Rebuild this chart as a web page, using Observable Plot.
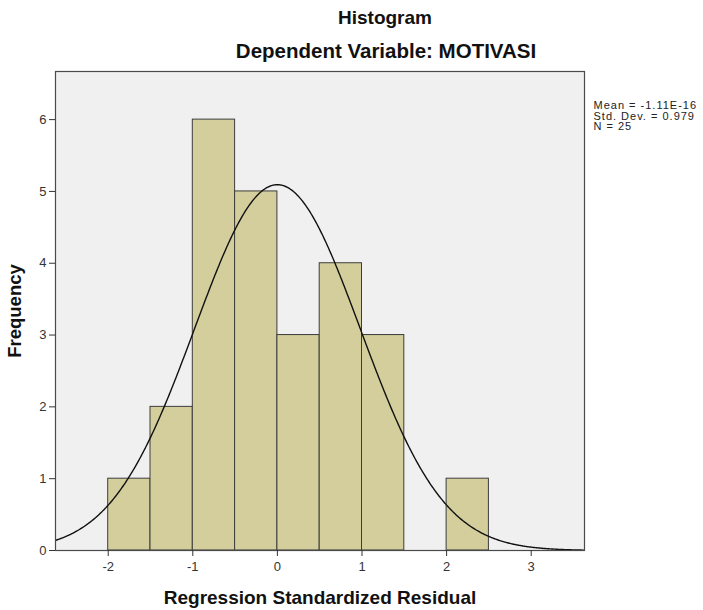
<!DOCTYPE html>
<html>
<head>
<meta charset="utf-8">
<script src="https://cdn.jsdelivr.net/npm/d3@7"></script>
<script src="https://cdn.jsdelivr.net/npm/@observablehq/plot@0.6"></script>
<style>
  html, body { margin: 0; padding: 0; background: #fff; }
  #chart svg { display: block; }
</style>
</head>
<body>
<div id="chart"></div>
<script>
// Histogram bins (lower edge, upper edge) and frequencies
const binStart = [-2, -1.5, -1, -0.5, 0, 0.5, 1, 1.5, 2];
const binEnd   = [-1.5, -1, -0.5, 0, 0.5, 1, 1.5, 2, 2.5];
const frequency = [1, 2, 6, 5, 3, 4, 3, 0, 1];

// Reported statistics
const statMean = -1.11e-16;
const statSD = 0.979;
const statN = 25;
const statLabels = ["Mean = -1.11E-16", "Std. Dev. = 0.979", "N = 25"];

const xTicks = [-2, -1, 0, 1, 2, 3];
const yTicks = [0, 1, 2, 3, 4, 5, 6];

const titleText = "Histogram";
const subtitleText = "Dependent Variable: MOTIVASI";
const xLabel = "Regression Standardized Residual";
const yLabel = "Frequency";

const bins = binStart.map((x1, i) => ({x1, x2: binEnd[i], count: frequency[i]})).filter(d => d.count > 0);

// Normal curve scaled to the histogram (N * bin width * density)
const binWidth = 0.5;
const curve = d3.range(-2.7, 3.75, 0.01).map(x => ({
  x,
  y: statN * binWidth / (statSD * Math.sqrt(2 * Math.PI)) * Math.exp(-0.5 * ((x - statMean) / statSD) ** 2)
}));

const font = "'Liberation Sans', Arial, Helvetica, sans-serif";
const fmt = d => String(d);
const statStyle = {frameAnchor: "top-right", dx: 9, textAnchor: "start", lineAnchor: "middle", fontSize: 11, fill: "#222"};

const chart = Plot.plot({
  width: 703,
  height: 610,
  marginLeft: 55,
  marginRight: 119,
  marginTop: 71,
  marginBottom: 60,
  style: {fontFamily: font, fontSize: "13px", color: "#222", background: "#fff"},
  x: {domain: [-2.623, 3.63]},
  y: {domain: [0, 6.67]},
  marks: [
    Plot.frame({fill: "#f0f0f0"}),
    Plot.rectY(bins, {x1: "x1", x2: "x2", y: "count", fill: "#d3ce9c", stroke: "#3c3c3c", strokeWidth: 1, inset: 0}),
    Plot.line(curve, {x: "x", y: "y", stroke: "#111", strokeWidth: 1.4, clip: true}),
    Plot.frame({stroke: "#4a4a4a", strokeWidth: 1.2}),
    Plot.axisX(xTicks, {tickSize: 6, tickPadding: 5, tickFormat: fmt, label: null, stroke: "#333", fill: "#333", fontSize: 13}),
    Plot.axisY(yTicks, {tickSize: 6, tickPadding: 3, tickFormat: fmt, label: null, stroke: "#333", fill: "#333", fontSize: 13}),
    Plot.text([titleText], {frameAnchor: "top", lineAnchor: "middle", dx: 65, dy: -54, fontSize: 19, fontWeight: "bold", fill: "#111"}),
    Plot.text([subtitleText], {frameAnchor: "top", lineAnchor: "middle", dx: 66, dy: -20, fontSize: 20.5, fontWeight: "bold", fill: "#111"}),
    Plot.text([statLabels[0]], {...statStyle, dy: 34}),
    Plot.text([statLabels[1]], {...statStyle, dy: 44.5}),
    Plot.text([statLabels[2]], {...statStyle, dy: 55}),
    Plot.text([xLabel], {frameAnchor: "bottom", lineAnchor: "middle", dy: 47, fontSize: 19, fontWeight: "bold", fill: "#111"}),
    Plot.text([yLabel], {frameAnchor: "left", textAnchor: "middle", lineAnchor: "middle", dx: -40, rotate: -90, fontSize: 18.5, fontWeight: "bold", fill: "#111"})
  ]
});

// widen the tracking of the statistics block like the reference
d3.select(chart).selectAll("text")
  .filter(function () { return statLabels.includes(this.textContent); })
  .attr("letter-spacing", "1px");

document.getElementById("chart").appendChild(chart);
</script>
</body>
</html>
